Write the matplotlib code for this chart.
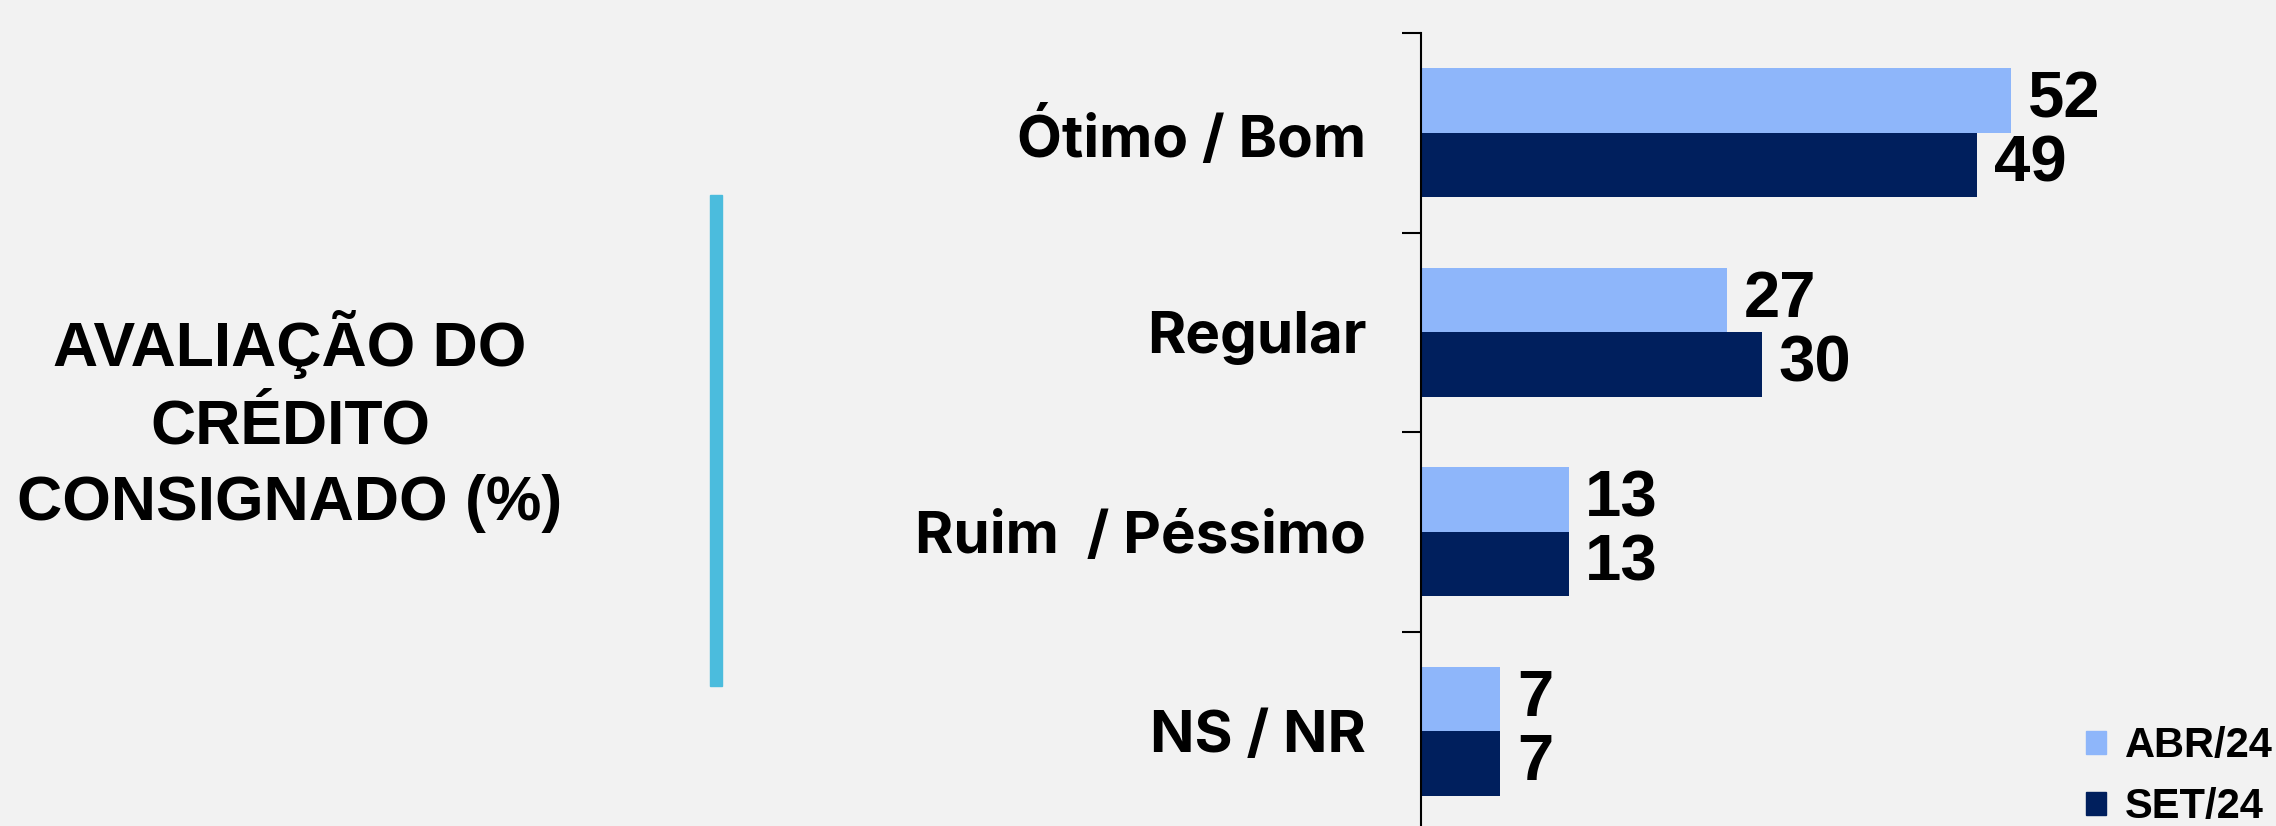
import matplotlib
matplotlib.use('Agg')
import matplotlib.pyplot as plt
from matplotlib.patches import Patch, Rectangle
import numpy as np

categorias = ['Ótimo / Bom', 'Regular', 'Ruim  / Péssimo', 'NS / NR']
abr_24 = [52, 27, 13, 7]
set_24 = [49, 30, 13, 7]
series = ['ABR/24', 'SET/24']
titulo = ['AVALIAÇÃO DO', 'CRÉDITO', 'CONSIGNADO (%)']

W, H = 2276, 826
fundo = '#F2F2F2'
cor_abr = '#8EB6FA'
cor_set = '#001F5D'
arial = 'Liberation Sans'

fig = plt.figure(figsize=(W / 100, H / 100), dpi=100, facecolor=fundo)

# eixo das barras (posição em pixels da figura)
x0 = 1421
ax = fig.add_axes([x0 / W, 1 - 831 / H, (W - x0) / W, 798 / H])
ax.set_facecolor(fundo)

y = np.arange(len(categorias))
h = 0.323
ax.barh(y - h / 2, abr_24, h, color=cor_abr, label=series[0])
ax.barh(y + h / 2, set_24, h, color=cor_set, label=series[1])

for i in range(len(categorias)):
    for val, dy in ((abr_24[i], -h / 2), (set_24[i], h / 2)):
        ax.annotate(str(val), (val, i + dy), xytext=(12, 0), textcoords='offset points',
                    va='center', ha='left', fontsize=47, fontweight='bold', family=arial)

ax.set_xlim(0, (W - x0) / 11.35)
ax.set_ylim(len(categorias) - 0.5, -0.5)

ax.set_yticks(np.arange(len(categorias) + 1) - 0.5)
ax.set_yticklabels([])
ax.tick_params(axis='y', which='major', length=13.5, width=1.5, color='black', direction='out')
ax.set_yticks(y, minor=True)
ax.set_yticklabels(categorias, minor=True, fontsize=42, fontweight='bold', family='Inter')
ax.tick_params(axis='y', which='minor', length=0, pad=39.5)
ax.set_xticks([])

for s in ['top', 'right', 'bottom']:
    ax.spines[s].set_visible(False)
ax.spines['left'].set_linewidth(1.5)

# título à esquerda
for texto, base in zip(titulo, [366, 443, 520]):
    fig.text(290 / W, 1 - base / H, texto, ha='center', va='baseline',
             fontsize=45, fontweight='bold', family=arial)

# barra ciano
fig.add_artist(Rectangle((710 / W, 1 - 686 / H), 12 / W, 491 / H,
                         transform=fig.transFigure, color='#4BBCDD'))

handles = [Patch(color=cor_abr), Patch(color=cor_set)]
fig.legend(handles, series, loc='lower right', bbox_to_anchor=(2273 / W, -1 / H),
           frameon=False, prop={'family': arial, 'weight': 'bold', 'size': 30},
           handlelength=0.48, handleheight=0.48, handletextpad=0.45, labelspacing=0.5,
           borderpad=0, borderaxespad=0)

fig.savefig('out.png', dpi=100, facecolor=fundo)
